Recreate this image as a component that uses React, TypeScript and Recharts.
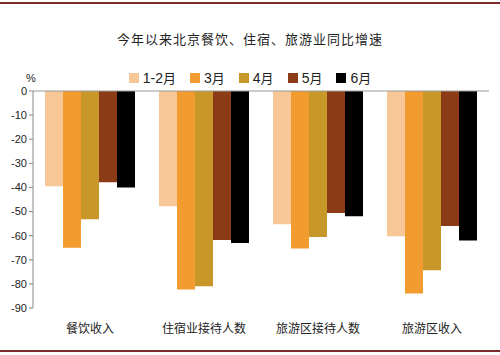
import { BarChart, Bar, XAxis, YAxis, ReferenceLine } from 'recharts'

const categories = ['餐饮收入', '住宿业接待人数', '旅游区接待人数', '旅游区收入']
const seriesNames = ['1-2月', '3月', '4月', '5月', '6月']
const janFeb = [-39.5, -47.8, -55.3, -60.2]
const mar = [-65, -82.3, -65.3, -84]
const apr = [-53.2, -81, -60.6, -74.3]
const may = [-37.8, -61.8, -50.6, -56]
const jun = [-40, -63, -51.9, -62]
const yTicks = [0, -10, -20, -30, -40, -50, -60, -70, -80, -90]

const colors = ['#F8C797', '#F29B2E', '#C8972A', '#8B3B16', '#000000']

const chartData = categories.map((c, i) => ({
  name: c,
  [seriesNames[0]]: janFeb[i],
  [seriesNames[1]]: mar[i],
  [seriesNames[2]]: apr[i],
  [seriesNames[3]]: may[i],
  [seriesNames[4]]: jun[i],
}))

const cjk = '"Noto Sans CJK SC", sans-serif'
const latin = '"Liberation Sans", Arial, sans-serif'

function LegendBox() {
  return (
    <div style={{ position: 'absolute', left: 0, top: 70, width: 500, display: 'flex', justifyContent: 'center', gap: 14, fontFamily: latin, fontSize: 14, color: '#222', lineHeight: '16px' }}>
      {seriesNames.map((s, i) => (
        <div key={s} style={{ display: 'flex', alignItems: 'center' }}>
          <span style={{ width: 10, height: 10, background: colors[i], display: 'inline-block', marginRight: 4 }} />
          <span>
            {s.replace('月', '')}
            <span style={{ fontFamily: cjk, fontSize: 13 }}>月</span>
          </span>
        </div>
      ))}
    </div>
  )
}

export default function App() {
  return (
    <div style={{ position: 'absolute', left: 0, top: 0, width: 500, height: 355, background: '#fff' }}>
      <style>{'body{margin:0}'}</style>
      <div style={{ position: 'absolute', left: 0, top: 2, width: 500, height: 2, background: '#7a2a2a' }} />
      <div style={{ position: 'absolute', left: 0, top: 350, width: 500, height: 2, background: '#7a2a2a' }} />
      <div style={{ position: 'absolute', left: 0, top: 29, width: 500, textAlign: 'center', fontFamily: cjk, fontSize: 13, color: '#222', letterSpacing: 1 }}>
        今年以来北京餐饮、住宿、旅游业同比增速
      </div>
      <div style={{ position: 'absolute', left: 26, top: 72, fontFamily: latin, fontSize: 11, color: '#222' }}>%</div>
      <LegendBox />
      <BarChart
        width={500}
        height={355}
        data={chartData}
        margin={{ top: 91, right: 11, bottom: 15, left: 0 }}
        barGap="0%"
        barSize={18}
      >
        <XAxis
          dataKey="name"
          axisLine={false}
          tickLine={false}
          height={32}
          tickMargin={10}
          tick={{ fontFamily: cjk, fontSize: 12, fill: '#222' }}
          interval={0}
        />
        <YAxis
          domain={[-90, 0]}
          ticks={yTicks}
          width={33}
          axisLine={{ stroke: '#888' }}
          tickLine={{ stroke: '#888' }}
          tickSize={4}
          tickMargin={2}
          tick={{ fontFamily: latin, fontSize: 11, fill: '#222' }}
          interval={0}
        />
        {seriesNames.map((s, i) => (
          <Bar key={s} dataKey={s} fill={colors[i]} isAnimationActive={false} />
        ))}
        <ReferenceLine y={0} stroke="#999" />
      </BarChart>
    </div>
  )
}
